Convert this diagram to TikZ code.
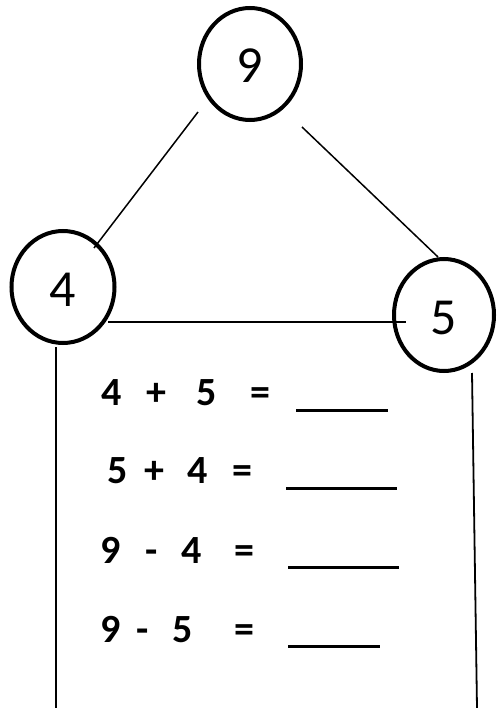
\documentclass[tikz,border=0pt]{standalone}
\usepackage{fontspec}
\setmainfont{Carlito}
\usetikzlibrary{shapes.geometric}
\begin{document}
\begin{tikzpicture}[x=1pt,y=-1pt,
  bubble/.style={draw, ellipse, line width=4pt, minimum width=102pt, minimum height=112pt, inner sep=0pt, text height=38pt, text depth=0pt, font=\fontsize{52}{56}\selectfont},
  eq/.style={anchor=base, font=\fontsize{40}{44}\selectfont\bfseries, inner sep=0pt},
  thin/.style={line width=1.5pt},
  blank/.style={line width=3pt}]
\useasboundingbox (0,0) rectangle (496,708);
\node[bubble] (n9) at (250,64) {9};
\node[bubble, minimum width=103pt] (n4) at (63,287) {4};
\node[bubble, minimum width=100pt] (n5) at (444,315) {5};
\coordinate (a1) at (198,112); \coordinate (a2) at (94,248);
\coordinate (b1) at (302,127); \coordinate (b2) at (438,257);
\coordinate (c1) at (108,322); \coordinate (c2) at (406,322);
\coordinate (d1) at (56,347); \coordinate (d2) at (56,708);
\coordinate (e1) at (472,373); \coordinate (e2) at (477,708);
\draw[thin] (a1) -- (a2);
\draw[thin] (b1) -- (b2);
\draw[thin, line width=1.8pt] (c1) -- (c2);
\draw[thin, line width=1.8pt] (d1) -- (d2);
\draw[thin, line width=1.8pt] (e1) -- (e2);
% row 1
\node[eq] (r1a) at (112,405) {4};
\node[eq] (r1b) at (156,405) {+};
\node[eq] (r1c) at (207,405) {5};
\node[eq] (r1d) at (260,405) {=};
\coordinate (u1a) at (296,410); \coordinate (u1b) at (388,410);
\draw[blank] (u1a) -- (u1b);
% row 2
\node[eq] (r2a) at (118,483) {5};
\node[eq] (r2b) at (154,483) {+};
\node[eq] (r2c) at (198,483) {4};
\node[eq] (r2d) at (242,483) {=};
\coordinate (u2a) at (286,488); \coordinate (u2b) at (397,488);
\draw[blank] (u2a) -- (u2b);
% row 3
\node[eq] (r3a) at (111,563) {9};
\node[eq] (r3b) at (152,563) {-};
\node[eq] (r3c) at (192,563) {4};
\node[eq] (r3d) at (244,563) {=};
\coordinate (u3a) at (288,567); \coordinate (u3b) at (399,567);
\draw[blank] (u3a) -- (u3b);
% row 4
\node[eq] (r4a) at (111,642) {9};
\node[eq] (r4b) at (143,642) {-};
\node[eq] (r4c) at (183,642) {5};
\node[eq] (r4d) at (244,642) {=};
\coordinate (u4a) at (288,646); \coordinate (u4b) at (380,646);
\draw[blank] (u4a) -- (u4b);
\end{tikzpicture}
\end{document}
